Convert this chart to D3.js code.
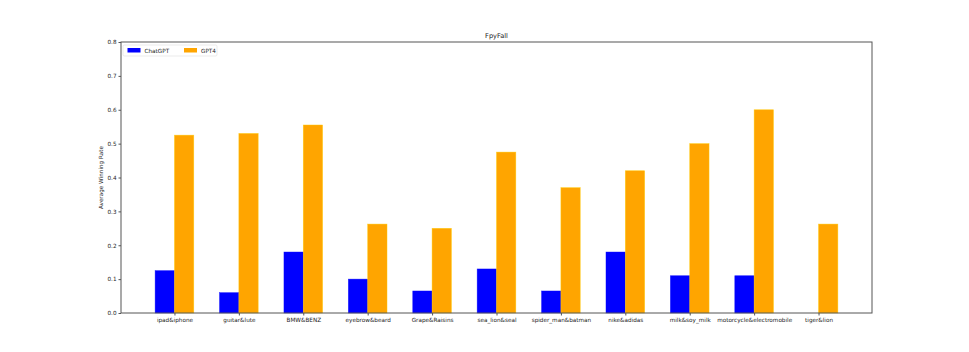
<!DOCTYPE html>
<html lang="en">
<head>
    <meta charset="utf-8">
    <script src="https://cdn.jsdelivr.net/npm/d3@7"></script>
    <style>
        body { margin: 0; background: #fff; }
        text { font-family: 'DejaVu Sans', sans-serif; fill: #222; }
        .axis path, .axis line { stroke: #555; }
        .axis text { font-size: 5.7px; fill: #222; }
    </style>
</head>
<body>
<div id="chart"></div>
<script>
    // data
    var categories = ["ipad&iphone", "guitar&lute", "BMW&BENZ", "eyebrow&beard", "Grape&Raisins",
        "sea_lion&seal", "spider_man&batman", "nike&adidas", "milk&soy_milk",
        "motorcycle&electromobile", "tiger&lion"];
    var chatgpt = [0.125, 0.06, 0.18, 0.1, 0.065, 0.13, 0.065, 0.18, 0.11, 0.11, 0];
    var gpt4 = [0.525, 0.53, 0.555, 0.2625, 0.25, 0.475, 0.37, 0.42, 0.5, 0.6, 0.2625];
    var yTicks = [0, 0.1, 0.2, 0.3, 0.4, 0.5, 0.6, 0.7, 0.8];
    var seriesNames = ["ChatGPT", "GPT4"];
    var seriesColors = ["#0000ff", "#ffa500"];

    var W = 969, H = 352;
    var margin = {top: 42, right: 97, bottom: 39, left: 121};
    var width = W - margin.left - margin.right;
    var height = H - margin.top - margin.bottom;
    var barW = 0.3;

    var svg = d3.select("#chart").append("svg")
        .attr("width", W)
        .attr("height", H);

    var g = svg.append("g")
        .attr("transform", "translate(" + margin.left + "," + margin.top + ")");

    // numeric x like matplotlib, with 5% margins
    var x = d3.scaleLinear()
        .domain([-0.83, categories.length - 1 + 0.83])
        .range([0, width]);

    var y = d3.scaleLinear()
        .domain([0, 0.8])
        .range([height, 0]);

    var all = [chatgpt, gpt4];
    all.forEach(function (vals, s) {
        g.selectAll(".bar" + s)
            .data(vals)
            .enter().append("rect")
            .attr("class", "bar" + s)
            .attr("x", function (d, i) { return x(i - barW + s * barW); })
            .attr("width", x(barW) - x(0))
            .attr("y", function (d) { return y(d); })
            .attr("height", function (d) { return height - y(d); })
            .attr("fill", seriesColors[s])
            .attr("stroke", d3.color(seriesColors[s]).brighter(0.6))
            .attr("stroke-opacity", d => d > 0 ? 0.7 : 0)
            .attr("stroke-width", 0.6);
    });

    // axes
    var yAxis = d3.axisLeft(y).tickValues(yTicks).tickFormat(d3.format(".1f")).tickSize(2.5).tickPadding(2);
    g.append("g").attr("class", "axis y").call(yAxis)
        .select(".domain").remove();

    var xAxis = d3.axisBottom(x).tickValues(d3.range(categories.length))
        .tickFormat(function (i) { return categories[i]; }).tickSize(2.5).tickPadding(2);
    g.append("g").attr("class", "axis x")
        .attr("transform", "translate(0," + height + ")")
        .call(xAxis)
        .select(".domain").remove();

    // frame
    g.append("rect")
        .attr("width", width)
        .attr("height", height)
        .attr("fill", "none")
        .attr("stroke", "#555")
        .attr("stroke-width", 1);

    // title
    svg.append("text")
        .attr("x", margin.left + width / 2)
        .attr("y", margin.top - 4)
        .attr("text-anchor", "middle")
        .style("font-size", "6.6px")
        .text("FpyFall");

    // y label
    svg.append("text")
        .attr("transform", "translate(103," + (margin.top + height / 2) + ") rotate(-90)")
        .attr("text-anchor", "middle")
        .style("font-size", "5.7px")
        .text("Average Winning Rate");

    // legend
    var leg = g.append("g").attr("transform", "translate(2,3)");
    leg.append("rect")
        .attr("width", 94).attr("height", 11).attr("rx", 1.5)
        .attr("fill", "#fff").attr("stroke", "#ddd").attr("stroke-width", 0.6);
    var legX = [4.5, 61];
    seriesNames.forEach(function (n, i) {
        leg.append("rect")
            .attr("x", legX[i]).attr("y", 3)
            .attr("width", 13).attr("height", 4.5)
            .attr("fill", seriesColors[i]);
        leg.append("text")
            .attr("x", legX[i] + 17).attr("y", 7.6)
            .style("font-size", "5.7px")
            .text(n);
    });
</script>
</body>
</html>
